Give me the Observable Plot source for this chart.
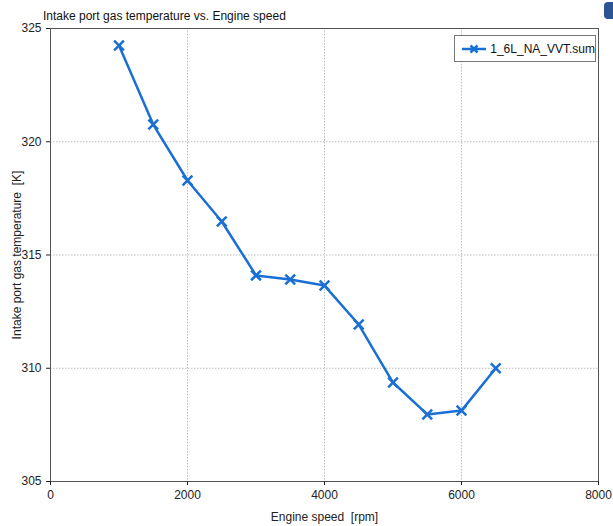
<!DOCTYPE html>
<html>
<head>
<meta charset="utf-8">
<script src="https://cdn.jsdelivr.net/npm/d3@7"></script>
<script src="https://cdn.jsdelivr.net/npm/@observablehq/plot@0.6"></script>
<style>
  body { margin: 0; background: #fff; font-family: "Liberation Sans", Arial, sans-serif; }
  #wrap { position: relative; width: 613px; height: 526px; overflow: hidden; }
  #title { position: absolute; left: 43px; top: 9px; font-size: 12px; color: #111; }
  #blob { position: absolute; left: 604px; top: 2px; width: 14px; height: 17px; background: #2c5593; border-radius: 4px; }
  #legend { position: absolute; left: 454px; top: 35px; width: 142px; height: 27px; border: 1px solid #777; background: #fff;
            font-size: 12px; color: #111; display: flex; align-items: center; box-sizing: border-box; }
  #chart { position: absolute; left: 0; top: 0; }
</style>
</head>
<body>
<div id="wrap">
  <div id="chart"></div>
  <div id="title">Intake port gas temperature vs. Engine speed</div>
  <div id="blob"></div>
  <div id="legend"><svg width="30" height="14" style="margin-left:6px;margin-right:4px"><line x1="1" y1="7" x2="26" y2="7" stroke="#1a6fd4" stroke-width="2.5"/><path d="M9.5,3.5L16.5,10.5M16.5,3.5L9.5,10.5" stroke="#1a6fd4" stroke-width="2.5"/></svg><span>1_6L_NA_VVT.sum</span></div>
</div>
<script>
const speeds = [1000, 1500, 2000, 2500, 3000, 3500, 4000, 4500, 5000, 5500, 6000, 6500];
const temps = [324.25, 320.76, 318.29, 316.48, 314.1, 313.92, 313.65, 311.93, 309.37, 307.96, 308.13, 310.0];
const xTicks = [0, 2000, 4000, 6000, 8000];
const yTicks = [305, 310, 315, 320, 325];
const seriesName = "1_6L_NA_VVT.sum";

const data = speeds.map((s, i) => ({speed: s, temp: temps[i]}));
const blue = "#1a6fd4";

const chart = Plot.plot({
  width: 613,
  height: 526,
  marginLeft: 50,
  marginRight: 15,
  marginTop: 28,
  marginBottom: 45,
  style: {fontFamily: "'Liberation Sans', Arial, sans-serif", fontSize: "12px", color: "#222", background: "#fff"},
  x: {domain: [0, 8000], ticks: xTicks, tickFormat: d => String(d), label: "Engine speed  [rpm]", labelAnchor: "center", labelOffset: 39, tickSize: 4},
  y: {domain: [305, 325], ticks: yTicks, tickFormat: d => String(d), label: "Intake port gas temperature  [K]", labelAnchor: "center", labelOffset: 38, tickSize: 4},
  marks: [
    Plot.gridX(xTicks.slice(1, -1), {stroke: "#bdbdbd", strokeOpacity: 1, strokeDasharray: "1.5,1.5"}),
    Plot.gridY(yTicks.slice(1, -1), {stroke: "#bdbdbd", strokeOpacity: 1, strokeDasharray: "1.5,1.5"}),
    Plot.frame({stroke: "#555"}),
    Plot.axisX({ticks: xTicks, tickFormat: d => String(d), tickSize: 4, label: "Engine speed  [rpm]", labelAnchor: "center", labelOffset: 39, labelArrow: "none"}),
    Plot.axisY({ticks: yTicks, tickFormat: d => String(d), tickSize: 4, label: "Intake port gas temperature  [K]", labelAnchor: "center", labelOffset: 38, labelArrow: "none"}),
    Plot.line(data, {x: "speed", y: "temp", stroke: blue, strokeWidth: 2.5}),
    Plot.dot(data, {x: "speed", y: "temp", symbol: "times", r: 4.5, stroke: blue, strokeWidth: 2.5})
  ]
});
document.getElementById("chart").appendChild(chart);
</script>
</body>
</html>
